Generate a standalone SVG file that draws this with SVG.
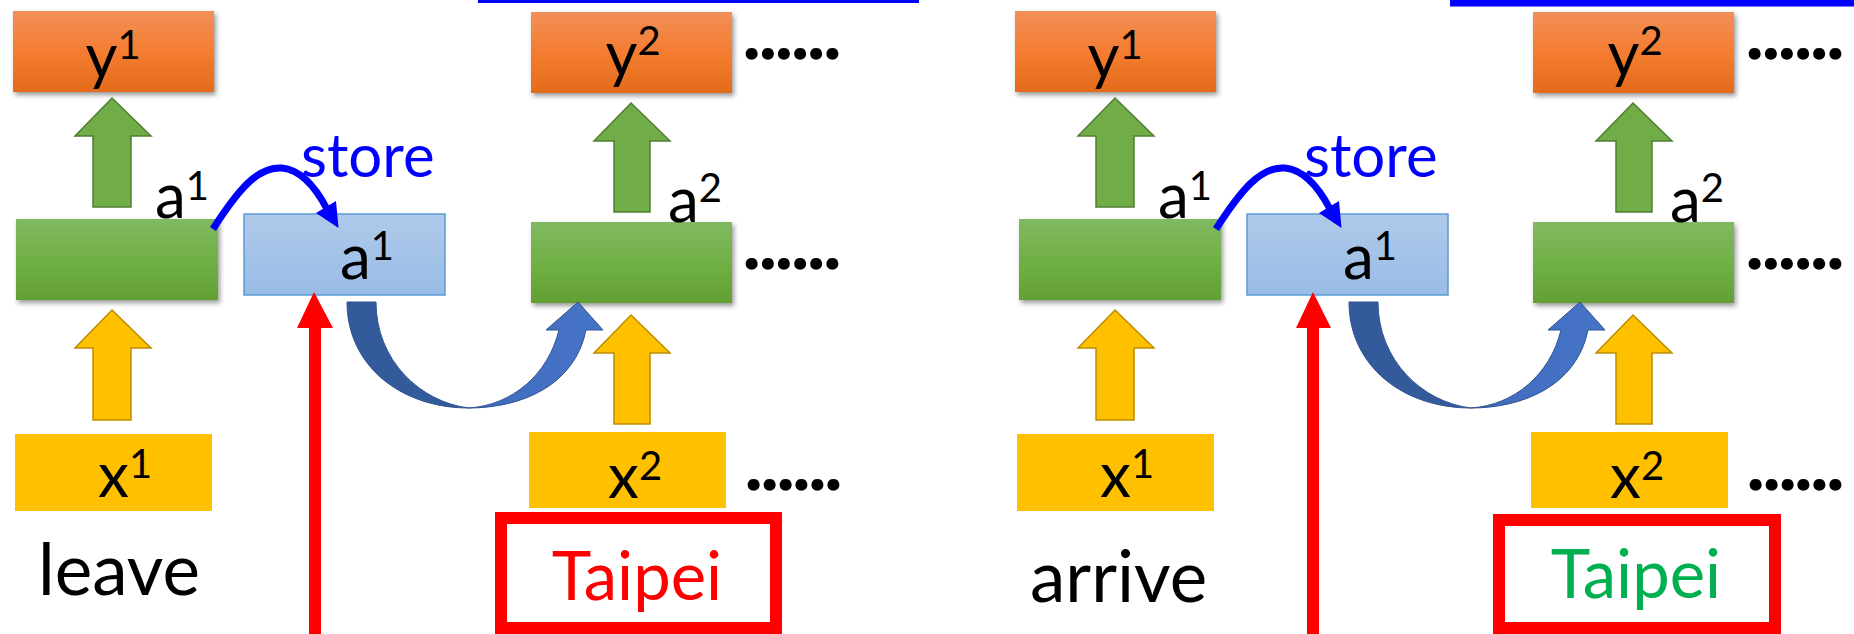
<svg xmlns="http://www.w3.org/2000/svg" width="1854" height="634" viewBox="0 0 1854 634">
<defs>
<linearGradient id="gOr" x1="0" y1="0" x2="0" y2="1"><stop offset="0" stop-color="#f18f58"/><stop offset="0.5" stop-color="#f47d31"/><stop offset="1" stop-color="#e36b1b"/></linearGradient>
<linearGradient id="gGr" x1="0" y1="0" x2="0" y2="1"><stop offset="0" stop-color="#81b963"/><stop offset="0.5" stop-color="#71b045"/><stop offset="1" stop-color="#62a034"/></linearGradient>
<linearGradient id="gBl" x1="0" y1="0" x2="0" y2="1"><stop offset="0" stop-color="#b0c9ea"/><stop offset="1" stop-color="#99bce6"/></linearGradient>
<linearGradient id="gCv" x1="0" y1="0" x2="1" y2="0"><stop offset="0" stop-color="#3f6bbd"/><stop offset="1" stop-color="#4674c6"/></linearGradient>
<filter id="sh" x="-10%" y="-10%" width="125%" height="130%"><feDropShadow dx="2" dy="3" stdDeviation="2.5" flood-color="#000" flood-opacity="0.4"/></filter>
</defs>
<style>
.or{fill:url(#gOr);filter:url(#sh)}
.gr{fill:url(#gGr);filter:url(#sh)}
.bl{fill:url(#gBl);stroke:#5b9bd5;stroke-width:1.5}
.yb{fill:#ffc000}
.ga{fill:#70ad47;stroke:#507e32;stroke-width:1.5}
.ya{fill:#ffc000;stroke:#bc8c00;stroke-width:1.5}
.t{font-family:Lato,"Open Sans","Liberation Sans",sans-serif;fill:#000}
.m{font-size:62px}
.s{font-size:40px}
.dots{font-family:Lato,"Liberation Sans",sans-serif;font-weight:bold;font-size:56px;fill:#000;stroke:#000;stroke-width:3.5;stroke-linejoin:round}
.store{font-family:Lato,"Liberation Sans",sans-serif;font-size:60px;fill:#0000ff}
.word{font-family:Lato,"Liberation Sans",sans-serif;font-size:71px;fill:#000}
.tp{font-family:Lato,"Liberation Sans",sans-serif;font-size:67px;text-anchor:middle}
.rbox{fill:none;stroke:#ff0000;stroke-width:12}
.cvd{fill:#335a9b;stroke:#2f528f;stroke-width:1}
.cvl{fill:url(#gCv);stroke:#2f528f;stroke-width:1}
.sl{fill:none;stroke:#0000ff;stroke-width:7}
</style>

<!-- LEFT HALF -->
<g id="L-y1"><rect class="or" x="13" y="11" width="201" height="81"/><text class="t m" x="113" y="78" text-anchor="middle">y<tspan class="s" dy="-19">1</tspan></text></g>
<g id="L-y2"><rect class="or" x="531" y="12" width="201" height="81"/><text class="t m" x="633" y="76" text-anchor="middle">y<tspan class="s" dy="-21">2</tspan></text></g>
<g id="L-dots1"><text class="dots" x="745" y="58" textLength="94" lengthAdjust="spacing">......</text></g>
<g id="L-h1"><rect class="gr" x="16" y="219" width="202" height="81"/></g>
<g id="L-a1lbl"><text class="t m" x="155" y="218">a<tspan class="s" dy="-18">1</tspan></text></g>
<g id="L-mem"><rect class="bl" x="244" y="214" width="201" height="81"/><text class="t m" x="340" y="279">a<tspan class="s" dy="-19">1</tspan></text></g>
<g id="L-h2"><rect class="gr" x="531" y="222" width="201" height="81"/></g>
<g id="L-a2lbl"><text class="t m" x="668" y="222">a<tspan class="s" dy="-20">2</tspan></text></g>
<g id="L-dots2"><text class="dots" x="745" y="268" textLength="94" lengthAdjust="spacing">......</text></g>
<g id="L-x1"><rect class="yb" x="15" y="434" width="197" height="77"/><text class="t m" x="98" y="497">x<tspan class="s" dy="-19">1</tspan></text></g>
<g id="L-x2"><rect class="yb" x="529" y="432" width="197" height="76"/><text class="t m" x="608" y="498">x<tspan class="s" dy="-18">2</tspan></text></g>
<g id="L-dots3"><text class="dots" x="747" y="489" textLength="93" lengthAdjust="spacing">......</text></g>
<g id="L-word"><text class="word" x="38" y="595">leave</text></g>
<g id="L-taipei"><rect class="rbox" x="501" y="518" width="275" height="110"/><text class="tp" x="637" y="600" fill="#ff0000">Taipei</text></g>
<g id="L-store"><text class="store" x="301" y="177">store</text></g>

<!-- RIGHT HALF -->
<g id="R-y1" transform="translate(1002,0)"><rect class="or" x="13" y="11" width="201" height="81"/><text class="t m" x="113" y="78" text-anchor="middle">y<tspan class="s" dy="-19">1</tspan></text></g>
<g id="R-y2" transform="translate(1002,0)"><rect class="or" x="531" y="12" width="201" height="81"/><text class="t m" x="633" y="76" text-anchor="middle">y<tspan class="s" dy="-21">2</tspan></text></g>
<g id="R-dots1" transform="translate(1003,0)"><text class="dots" x="745" y="58" textLength="94" lengthAdjust="spacing">......</text></g>
<g id="R-h1" transform="translate(1003,0)"><rect class="gr" x="16" y="219" width="202" height="81"/></g>
<g id="R-a1lbl" transform="translate(1003,0)"><text class="t m" x="155" y="218">a<tspan class="s" dy="-18">1</tspan></text></g>
<g id="R-mem" transform="translate(1003,0)"><rect class="bl" x="244" y="214" width="201" height="81"/><text class="t m" x="340" y="279">a<tspan class="s" dy="-19">1</tspan></text></g>
<g id="R-h2" transform="translate(1002,0)"><rect class="gr" x="531" y="222" width="201" height="81"/></g>
<g id="R-a2lbl" transform="translate(1002,0)"><text class="t m" x="668" y="222">a<tspan class="s" dy="-20">2</tspan></text></g>
<g id="R-dots2" transform="translate(1003,0)"><text class="dots" x="745" y="268" textLength="94" lengthAdjust="spacing">......</text></g>
<g id="R-x1" transform="translate(1002,0)"><rect class="yb" x="15" y="434" width="197" height="77"/><text class="t m" x="98" y="497">x<tspan class="s" dy="-19">1</tspan></text></g>
<g id="R-x2" transform="translate(1002,0)"><rect class="yb" x="529" y="432" width="197" height="76"/><text class="t m" x="608" y="498">x<tspan class="s" dy="-18">2</tspan></text></g>
<g id="R-dots3" transform="translate(1002,0)"><text class="dots" x="747" y="489" textLength="93" lengthAdjust="spacing">......</text></g>
<g id="R-word"><text class="word" x="1030" y="602">arrive</text></g>
<g id="R-taipei"><rect class="rbox" x="1499" y="520" width="276" height="108"/><text class="tp" x="1636" y="598" fill="#00b050">Taipei</text></g>
<g id="R-store" transform="translate(1003,0)"><text class="store" x="301" y="177">store</text></g>

<!-- CONNECTORS -->
<g id="connectors">
  <rect x="478" y="0" width="441" height="3" fill="#0000ff"/>
  <rect x="1450" y="0" width="404" height="6.5" fill="#0000ff"/>
  <g id="L-conn">
    <path class="ga" d="M112,98 L151,136 L131,136 L131,207 L93,207 L93,136 L75,136 Z"/>
    <path class="ga" d="M631,103 L670,141 L650,141 L650,212 L614,212 L614,141 L594,141 Z"/>
    <path class="ya" d="M112,310 L151,348 L131,348 L131,420 L93,420 L93,348 L75,348 Z"/>
    <path class="ya" d="M631,315 L670,353 L650,353 L650,424 L614,424 L614,353 L594,353 Z"/>
    <path class="sl" d="M213,229 C238,190 258,166 282,168 C302,170 316,188 327,209"/>
    <polygon fill="#0000ff" points="316,213 336,201 338.5,228"/>
    <polygon fill="#ff0000" points="314,292 333,328 321,328 321,634 309,634 309,328 297,328"/>
    <path class="cvd" d="M347,302 L376,302 C376,360 420,402 469,408 C400,408 347,365 347,302 Z"/>
    <path class="cvl" d="M469,408 C522,408 575,385 586,330 L603,330 L578,302 L546,330 L559,330 C548,375 512,405 469,408 Z"/>
  </g>
  <g id="R-conn" transform="translate(1003,0)">
    <path class="ga" d="M112,98 L151,136 L131,136 L131,207 L93,207 L93,136 L75,136 Z"/>
    <path class="ya" d="M112,310 L151,348 L131,348 L131,420 L93,420 L93,348 L75,348 Z"/>
    <path class="sl" d="M213,229 C238,190 258,166 282,168 C302,170 316,188 327,209"/>
    <polygon fill="#0000ff" points="316,213 336,201 338.5,228"/>
  </g>
  <g id="R-conn2" transform="translate(1002,0)">
    <path class="ga" d="M631,103 L670,141 L650,141 L650,212 L614,212 L614,141 L594,141 Z"/>
    <path class="ya" d="M631,315 L670,353 L650,353 L650,424 L614,424 L614,353 L594,353 Z"/>
    <path class="cvd" d="M347,302 L376,302 C376,360 420,402 469,408 C400,408 347,365 347,302 Z"/>
    <path class="cvl" d="M469,408 C522,408 575,385 586,330 L603,330 L578,302 L546,330 L559,330 C548,375 512,405 469,408 Z"/>
  </g>
  <polygon fill="#ff0000" points="1313,292 1331,328 1319,328 1319,634 1307,634 1307,328 1296,328"/>
</g>
</svg>
